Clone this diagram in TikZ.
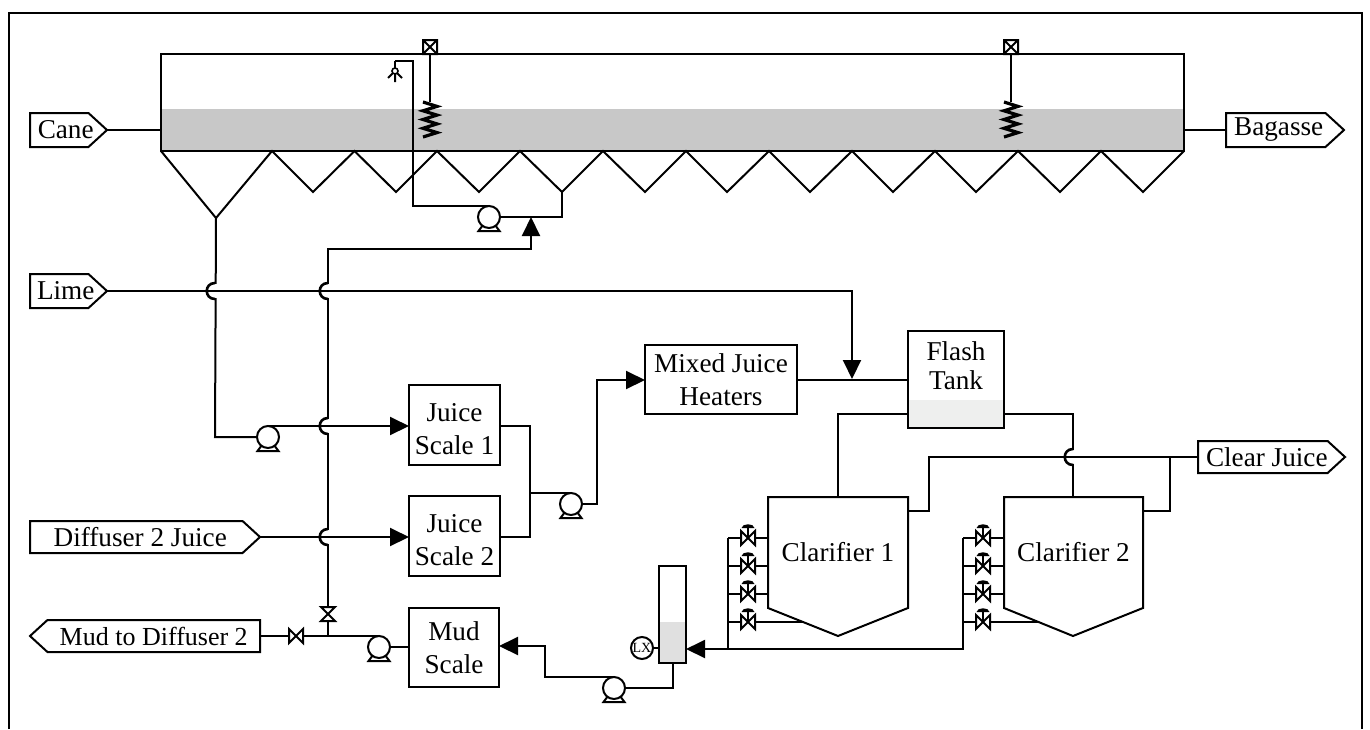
\documentclass[tikz,border=0pt]{standalone}
\usepackage{fontspec}
\setmainfont{Liberation Serif}
\usepackage{tikz}
\usetikzlibrary{arrows.meta,shapes.symbols}
\definecolor{slurry}{HTML}{C8C8C8}
\definecolor{flashliq}{HTML}{EEEFEE}
\definecolor{tubeliq}{HTML}{E0E0E0}
\tikzset{
  vessel/.style={draw,rectangle,inner sep=0pt,outer sep=0pt,align=center},
  tag/.style={draw,signal,signal to=east,signal from=nowhere,signal pointer angle=85,
    inner sep=0pt,outer sep=0pt,anchor=west,minimum height=16pt},
  pumpbody/.style={draw,circle,fill=white,inner sep=0pt,outer sep=0pt,minimum size=11pt},
}
\newcommand{\pump}[3]{%
  \draw (#2-10.5,#3+14) -- (#2-6,#3+8) -- (#2+6,#3+8) -- (#2+10.5,#3+14) -- cycle;
  \node[pumpbody] (#1) at (#2,#3) {};}
\newcommand{\hvalve}[2]{\draw[fill=white] (#1-7,#2-7) -- (#1+7,#2+7) -- (#1+7,#2-7) -- (#1-7,#2+7) -- cycle;}
\newcommand{\vvalve}[2]{\draw[fill=white] (#1-7,#2-7) -- (#1+7,#2+7) -- (#1-7,#2+7) -- (#1+7,#2-7) -- cycle;}
\newcommand{\ctlvalve}[2]{%
  \hvalve{#1}{#2}
  \draw (#1,#2) -- (#1,#2-10);
  \fill (#1-6.5,#2-10) .. controls (#1-6,#2-15) and (#1+6,#2-15) .. (#1+6.5,#2-10) -- cycle;}
\newcommand{\jump}[2]{%
  \draw[white,line width=2pt] (#1,#2-7) -- (#1,#2+7);
  \draw[line width=1.3pt] (#1,#2-8) .. controls (#1-11,#2-8) and (#1-11,#2+8) .. (#1,#2+8);}
\newcommand{\agitator}[1]{%
  \draw (#1-7,40) rectangle (#1+7,54) (#1-7,40) -- (#1+7,54) (#1+7,40) -- (#1-7,54);
  \draw (#1,54) -- (#1,102);
  \draw[line width=1.6pt] (#1-7,102) -- (#1+7,106.4) -- (#1-7,110.8) -- (#1+7,115.1) -- (#1-7,119.5)
    -- (#1+7,123.9) -- (#1-7,128.3) -- (#1+7,132.6) -- (#1-7,137);}

\begin{document}
\begin{tikzpicture}[x=0.5pt,y=-0.5pt,>={Triangle[length=9.5pt,width=9pt]},line width=1pt,
  font=\fontsize{13.6}{14.5}\selectfont]
\useasboundingbox (0,0) rectangle (1370,729);
\draw (9,729) -- (9,13) -- (1362,13) -- (1362,729);
% diffuser
\fill[slurry] (161,109) rectangle (1184,151);
\node[vessel,minimum width=511.5pt,minimum height=48.5pt] (tank) at (672.5,102.5) {};
\draw (tank.south west) -- (216,218) coordinate (bighop) -- (272,151) -- (313,192) -- (354.5,151)
  -- (396,192) -- (437,151) -- (479,192) -- (520,151) -- (562,192) coordinate (pickup) -- (603,151)
  -- (645,192) -- (686,151) -- (727,192) -- (769,151) -- (810,192) -- (852,151) -- (893,192)
  -- (935,151) -- (976,192) -- (1018,151) -- (1060,192) -- (1101,151) -- (1143,192) -- (tank.south east);
\agitator{430}
\agitator{1011}
% spray
\draw (395,61) -- (395,68);
\draw (395,71) -- (395,82) (395,71) -- (388,78) (395,71) -- (402,78);
\draw[fill=white,line width=0.8pt] (395,71) circle (3);
% tags
\node[tag,minimum width=38.5pt,minimum height=17pt] (cane) at (30,130) {\makebox[16pt][c]{\hspace{6.5pt}Cane}};
\node[tag,minimum width=59pt,minimum height=17pt] (bagasse) at (1226,130) {\hspace{3pt}Bagasse};
\node[tag,minimum width=38.5pt,minimum height=17pt] (lime) at (30,291) {\makebox[16pt][c]{\hspace{6.5pt}Lime}};
\node[tag,minimum width=115pt] (diffuser) at (30,537) {\hspace{4pt}Diffuser 2 Juice};
\node[tag,minimum width=72pt] (clearjuice) at (1198,457) {\hspace{4pt}Clear Juice};
\node[tag,signal to=west,anchor=east,minimum width=115pt,font=\fontsize{13}{14.5}\selectfont] (mudout) at (260,636) {Mud to Diffuser 2\hspace{3pt}};
% vessels
\node[vessel,minimum width=45.5pt,minimum height=40pt] (scaleone) at (454.5,425) {\rule{0pt}{13pt}Juice\\[2pt]Scale 1};
\node[vessel,minimum width=45.5pt,minimum height=40pt] (scaletwo) at (454.5,536) {\rule{0pt}{13pt}Juice\\[2pt]Scale 2};
\node[vessel,minimum width=45pt,minimum height=39.5pt] (mudscale) at (454,647.5) {Mud\\[2pt]Scale};
\node[vessel,minimum width=76pt,minimum height=34.5pt] (heaters) at (721,379.5) {Mixed Juice\\[2pt]Heaters};
\fill[flashliq] (908,400) rectangle (1004,428);
\node[vessel,minimum width=48pt,minimum height=48.5pt] (flash) at (956,379.5) {};
\node (flashtext) at (956,366) [align=center,inner sep=0pt] {Flash\\Tank};
\node[minimum width=70pt,minimum height=55.5pt,inner sep=0pt,outer sep=0pt] (clarone) at (838,552.5) {Clarifier 1};
\draw (clarone.north west) -- (clarone.north east) -- (clarone.south east) -- (838,636) -- (clarone.south west) -- cycle;
\node[minimum width=69.5pt,minimum height=55.5pt,inner sep=0pt,outer sep=0pt] (clartwo) at (1073.5,552.5) {Clarifier 2};
\draw (clartwo.north west) -- (clartwo.north east) -- (clartwo.south east) -- (1073,636) -- (clartwo.south west) -- cycle;
% level tube
\fill[tubeliq] (659,622) rectangle (686,663);
\node[vessel,minimum width=13.5pt,minimum height=48.5pt] (tube) at (672.5,614.5) {};
\node[draw,circle,inner sep=0pt,outer sep=0pt,minimum size=11pt,font=\fontsize{7}{7}\selectfont] (lx) at (642,648) {LX};
\draw (lx.east) -- (lx.east -| tube.west);
% pumps
\pump{pumpcirc}{489}{217}
\pump{pumpmix}{268}{437}
\pump{pumpscale}{571}{504}
\pump{pumpmud}{379}{647}
\pump{pumptube}{614}{688}
% risers with the jumps over them
\coordinate (jet) at (531,217);
\draw (bighop) -- (215,437) -- (pumpmix.west);
\draw[->] (328,636) -- (328,249) -- (jet|-0,249) -- (jet);
\jump{215}{291}
\jump{328}{291}
\jump{328}{426}
\jump{328}{537}
\draw (flash.east|-0,414) -- (1073,414) -- (1073,497);
\jump{1073}{457}
% pipes
\draw (pumpcirc.north) -- (413,206) -- (413,61) -- (395,61);
\draw (pickup) -- (562,217) -- (pumpcirc.east);
\draw (cane.east) -- (cane.east -| tank.west);
\draw (bagasse.west) -- (bagasse.west -| tank.east);
\draw[->] (lime.east) -- (852,291) -- (852,379);
\draw[->] (pumpmix.north) -- (pumpmix.north -| scaleone.west);
\draw[->] (diffuser.east) -- (diffuser.east -| scaletwo.west);
\draw (scaleone.east|-0,426) -- (530,426) -- (530,537) -- (scaletwo.east|-0,537);
\draw (530,493) -- (pumpscale.north);
\draw[->] (pumpscale.east) -- (597,504) -- (597,380) -- (heaters.west|-0,380);
\draw (heaters.east) -- (flash.west|-heaters.east);
\draw (flash.west|-0,414) -- (838,414) -- (838,497);
\draw (clarone.east|-0,511) -- (929,511) -- (929,457) -- (clearjuice.west);
\draw (clartwo.east|-0,511) -- (1170,511) -- (1170,457);
\draw (mudout.east) -- (pumpmud.north);
\draw (pumpmud.east) -- (pumpmud.east -| mudscale.west);
\draw[->] (pumptube.north) -- (545,677) -- (545,646) -- (mudscale.east|-0,646);
\draw (pumptube.east) -- (672.5,688) -- (tube.south);
\draw[->] (963,538) -- (963,649) -- (tube.east|-0,649);
\draw (728,538) -- (728,649);
% clarifier underflow
\draw (728,538) -- (clarone.west|-0,538) (728,566) -- (clarone.west|-0,566) (728,594) -- (clarone.west|-0,594) (728,622) -- (803,622);
\draw (963,538) -- (clartwo.west|-0,538) (963,566) -- (clartwo.west|-0,566) (963,594) -- (clartwo.west|-0,594) (963,622) -- (1038,622);
\foreach \yy in {538,566,594,622}{
  \ctlvalve{748}{\yy}
  \ctlvalve{983}{\yy}
}
\hvalve{296}{636}
\vvalve{328}{614}
\end{tikzpicture}
\end{document}
